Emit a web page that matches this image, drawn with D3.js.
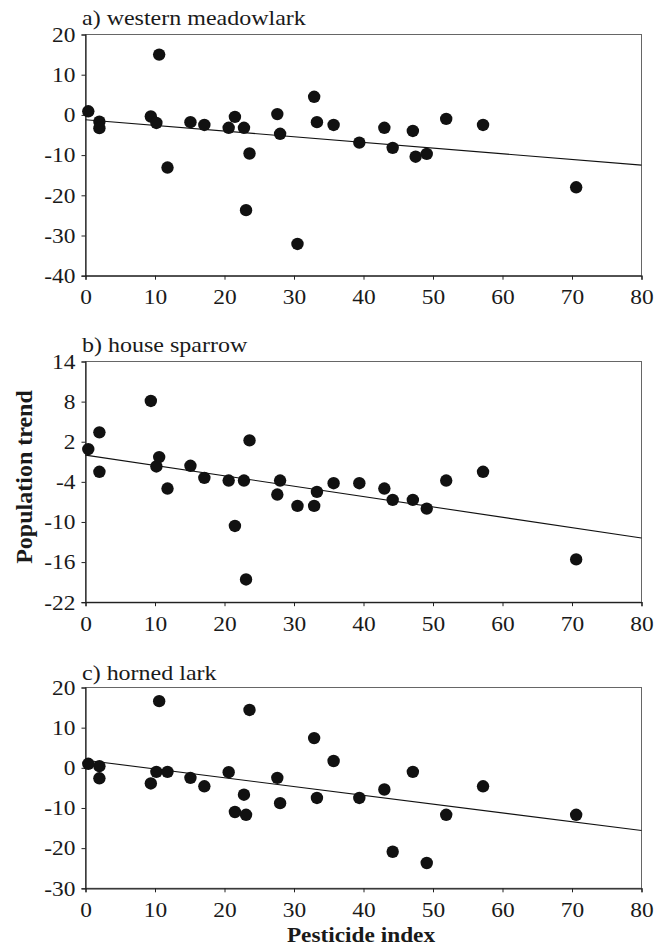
<!DOCTYPE html>
<html><head><meta charset="utf-8">
<script src="https://cdn.jsdelivr.net/npm/d3@7"></script>
<style>
body{margin:0;background:#fff;}
svg text{font-family:"Liberation Serif","Times New Roman",serif;fill:#1a1a1a;}
</style></head>
<body><svg id="chart" width="663" height="947"></svg>
<script>
// ---- data ----
const xTicks = [0,10,20,30,40,50,60,70,80];

const titleA = "a) western meadowlark";
const xA = [0.4,2.0,2.0,10.6,9.4,10.2,11.8,15.1,17.1,20.6,21.5,22.8,23.6,23.1,27.6,28.0,30.5,32.9,33.3,35.7,39.4,43.0,44.2,47.1,47.5,49.1,51.9,57.2,70.6];
const yA = [0.9,-1.7,-3.3,15.0,-0.4,-2.0,-13.1,-1.8,-2.5,-3.2,-0.5,-3.2,-9.6,-23.7,0.2,-4.7,-32.1,4.5,-1.8,-2.5,-6.9,-3.2,-8.2,-4.0,-10.4,-9.7,-1.0,-2.5,-18.0];
const yTicksA = [20,10,0,-10,-20,-30,-40];
const fitA = [-1.2,-12.5]; // trend line value at x=0 and x=80

const titleB = "b) house sparrow";
const xB = [0.4,2.0,2.0,9.4,10.2,10.6,11.8,15.1,17.1,20.6,21.5,22.8,23.6,23.1,27.6,28.0,30.5,32.9,33.3,35.7,39.4,43.0,44.2,47.1,49.1,51.9,57.2,70.6];
const yB = [0.9,3.4,-2.5,8.1,-1.7,-0.3,-5.0,-1.6,-3.4,-3.8,-10.6,-3.8,2.2,-18.6,-5.9,-3.8,-7.6,-7.6,-5.5,-4.2,-4.2,-5.0,-6.7,-6.7,-8.0,-3.8,-2.5,-15.6];
const yTicksB = [14,8,2,-4,-10,-16,-22];
const fitB = [0.0,-12.4];

const titleC = "c) horned lark";
const xC = [0.4,2.0,2.0,10.6,9.4,10.2,11.8,15.1,17.1,20.6,21.5,22.8,23.6,23.1,27.6,28.0,32.9,33.3,35.7,39.4,43.0,44.2,47.1,49.1,51.9,57.2,70.6];
const yC = [1.0,0.4,-2.6,16.6,-3.9,-1.0,-1.0,-2.5,-4.6,-1.1,-11.0,-6.7,14.4,-11.7,-2.5,-8.8,7.4,-7.5,1.7,-7.5,-5.4,-20.9,-1.0,-23.7,-11.7,-4.6,-11.7];
const yTicksC = [20,10,0,-10,-20,-30];
const fitC = [1.9,-15.6];

const yLabel = "Population trend";
const xLabel = "Pesticide index";

// ---- layout ----
const svg = d3.select("#chart");
const left = 85.5, right = 641.5;
const panels = [
  {title:titleA, xs:xA, ys:yA, ticks:yTicksA, fit:fitA, top:34.5, bottom:275.7, tb:25},
  {title:titleB, xs:xB, ys:yB, ticks:yTicksB, fit:fitB, top:361.5, bottom:602.2, tb:352},
  {title:titleC, xs:xC, ys:yC, ticks:yTicksC, fit:fitC, top:687.5, bottom:888.3, tb:680}
];
const fs = 20, sx = 1.17;

panels.forEach(p => {
  const x = d3.scaleLinear().domain([0,80]).range([left,right]);
  const y = d3.scaleLinear().domain(d3.extent(p.ticks)).range([p.bottom,p.top]);
  const g = svg.append("g");

  g.append("rect").attr("x",left).attr("y",p.top).attr("width",right-left).attr("height",p.bottom-p.top)
    .attr("fill","none").attr("stroke","#666").attr("stroke-width",1);

  const gx = g.append("g").attr("transform",`translate(0,${p.bottom})`)
    .call(d3.axisBottom(x).tickValues(xTicks).tickSize(4).tickFormat(d=>String(d)));
  const gy = g.append("g").attr("transform",`translate(${left},0)`)
    .call(d3.axisLeft(y).tickValues(p.ticks).tickSize(4).tickFormat(d=>String(d)));
  [gx,gy].forEach(a=>{
    a.attr("font-family",null).attr("font-size",null);
    a.selectAll("path").attr("stroke","#222").attr("stroke-width",1.2);
    a.selectAll("line").attr("stroke","#222");
    a.selectAll("text").attr("font-size",fs).attr("fill","#1a1a1a");
  });
  gx.selectAll(".tick text").attr("y",0).attr("dy",null)
    .attr("transform",`translate(0,28.5) scale(${sx},1)`);
  gy.selectAll(".tick text").attr("x",0).attr("dy","0.34em")
    .attr("transform",`translate(-10,0) scale(${sx},1)`);

  g.append("line").attr("x1",x(0)).attr("y1",y(p.fit[0])).attr("x2",x(80)).attr("y2",y(p.fit[1]))
    .attr("stroke","#111").attr("stroke-width",1.1);

  g.selectAll("circle").data(p.xs.map((v,i)=>[v,p.ys[i]])).join("circle")
    .attr("cx",d=>x(d[0])).attr("cy",d=>y(d[1])).attr("r",6.2).attr("fill","#111");

  g.append("text").attr("transform",`translate(82,${p.tb}) scale(1.2,1)`)
    .attr("font-size",fs).text(p.title);
});

svg.append("text").attr("transform","translate(31.5,477) rotate(-90)").attr("text-anchor","middle")
  .attr("font-size",24).attr("font-weight","bold").text(yLabel);
svg.append("text").attr("transform","translate(361,942) scale(1.06,1)").attr("text-anchor","middle")
  .attr("font-size",22).attr("font-weight","bold").text(xLabel);
</script></body></html>
